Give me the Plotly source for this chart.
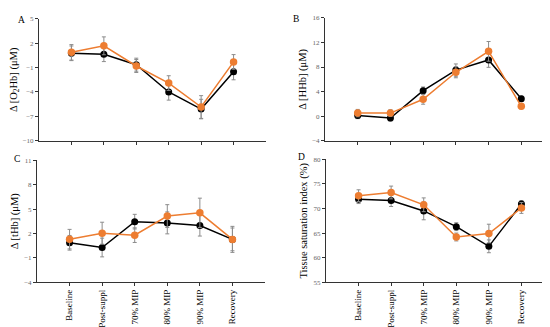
import plotly.graph_objects as go

categories = ["Baseline", "Post-suppl", "70% MIP", "80% MIP", "90% MIP", "Recovery"]

# Panel A: Δ[O2Hb]
o2hb_black = [0.76, 0.64, -0.64, -4.0, -6.1, -1.5]
o2hb_black_err = [0.9, 0.9, 0.8, 1.0, 1.2, 1.0]
o2hb_orange = [0.88, 1.68, -0.8, -2.9, -5.85, -0.3]
o2hb_orange_err = [0.95, 1.1, 0.8, 0.9, 1.4, 0.9]

# Panel B: Δ[HHb]
hhb_black = [0.1, -0.3, 4.15, 7.5, 9.15, 2.85]
hhb_black_err = [0.5, 0.5, 0.6, 1.0, 1.2, 0.4]
hhb_orange = [0.5, 0.5, 2.75, 7.15, 10.55, 1.6]
hhb_orange_err = [0.6, 0.55, 0.8, 0.9, 1.6, 0.4]

# Panel C: Δ[tHb]
thb_black = [0.85, 0.27, 3.45, 3.3, 2.98, 1.27]
thb_black_err = [0.9, 1.15, 0.9, 1.35, 1.3, 1.6]
thb_orange = [1.3, 2.03, 1.79, 4.14, 4.54, 1.27]
thb_orange_err = [1.2, 1.35, 0.9, 1.4, 1.8, 1.4]

# Panel D: TSI
tsi_black = [71.9, 71.6, 69.5, 66.3, 62.3, 70.9]
tsi_black_err = [0.9, 1.2, 1.8, 0.8, 1.3, 0.7]
tsi_orange = [72.6, 73.25, 70.75, 64.2, 64.9, 70.1]
tsi_orange_err = [1.2, 1.3, 1.4, 0.8, 1.9, 1.1]

W, H = 550, 327
FONT = "Liberation Serif"
BLACK = "#000000"
ORANGE = "#ED7D31"
ERR = "#8c8c8c"

def px_x(a, b):
    return [a / W, b / W]

def px_y(top, bottom):
    return [(H - bottom) / H, (H - top) / H]

panels = [
    dict(xd=px_x(31, 258), yd=px_y(7, 132), yr=[-10, 5], dt=3,
         data=(o2hb_black, o2hb_black_err, o2hb_orange, o2hb_orange_err),
         title="Δ [O<sub>2</sub>Hb] (μM)", letter="A", lx=13, ly=8, bottom=False),
    dict(xd=px_x(317, 546), yd=px_y(6, 132), yr=[-4, 16], dt=4,
         data=(hhb_black, hhb_black_err, hhb_orange, hhb_orange_err),
         title="Δ [HHb] (μM)", letter="B", lx=288, ly=7, bottom=False),
    dict(xd=px_x(29, 257), yd=px_y(152, 277), yr=[-4, 11], dt=3,
         data=(thb_black, thb_black_err, thb_orange, thb_orange_err),
         title="Δ [tHb] (μM)", letter="C", lx=9, ly=151, bottom=True),
    dict(xd=px_x(318, 546), yd=px_y(151, 277), yr=[55, 80], dt=5,
         data=(tsi_black, tsi_black_err, tsi_orange, tsi_orange_err),
         title="Tissue saturation index (%)", letter="D", lx=293, ly=149, bottom=True),
]

fig = go.Figure()
layout = dict(
    width=W, height=H, margin=dict(l=0, r=0, t=0, b=0),
    plot_bgcolor="white", paper_bgcolor="white", showlegend=False,
    font=dict(family=FONT, size=8, color="#000"),
)
annotations = []
for i, p in enumerate(panels):
    n = "" if i == 0 else str(i + 1)
    xa, ya = "x" + n, "y" + n
    bk, bke, orr, ore = p["data"]
    fig.add_trace(go.Scatter(
        x=categories, y=bk, xaxis=xa, yaxis=ya, mode="lines+markers",
        line=dict(color=BLACK, width=1.5),
        marker=dict(color=BLACK, size=7),
        error_y=dict(type="data", array=bke, color=ERR, thickness=1, width=2),
    ))
    fig.add_trace(go.Scatter(
        x=categories, y=orr, xaxis=xa, yaxis=ya, mode="lines+markers",
        line=dict(color=ORANGE, width=1.5),
        marker=dict(color=ORANGE, size=7.5),
        error_y=dict(type="data", array=ore, color=ERR, thickness=1, width=2),
    ))
    layout["xaxis" + n] = dict(
        domain=p["xd"], anchor=ya, type="category",
        categoryorder="array", categoryarray=categories,
        range=[-1, 6], showgrid=False, zeroline=False,
        showline=True, linecolor="#333", linewidth=1,
        ticks="outside", ticklen=3, tickcolor="#333",
        showticklabels=p["bottom"], tickangle=-90,
        tickfont=dict(family=FONT, size=9, color="#000"),
    )
    layout["yaxis" + n] = dict(
        domain=p["yd"], anchor=xa, range=p["yr"], dtick=p["dt"],
        tick0=p["yr"][0],
        showgrid=False, zeroline=False, showline=True,
        linecolor="#333", linewidth=1, ticks="outside", ticklen=3,
        tickcolor="#333", tickfont=dict(family=FONT, size=7, color="#666"),
        title=dict(text=p["title"], font=dict(family=FONT, size=10.5, color="#000"),
                   standoff=3),
    )
    annotations.append(dict(
        text=p["letter"], x=p["lx"] / W, y=(H - p["ly"]) / H,
        xref="paper", yref="paper", showarrow=False,
        xanchor="center", yanchor="middle",
        font=dict(family=FONT, size=9.5, color="#000"),
    ))
layout["annotations"] = annotations
fig.update_layout(**layout)
fig.write_html("out.html")
